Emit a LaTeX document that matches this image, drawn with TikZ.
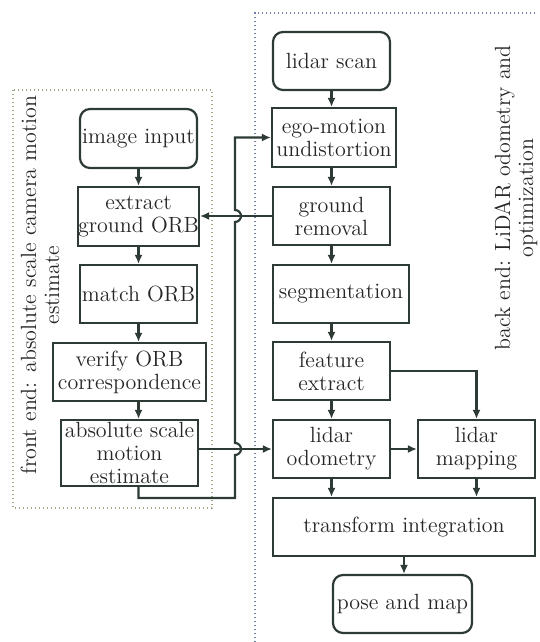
\documentclass[tikz,border=0pt]{standalone}
\usepackage{tikz}
\usetikzlibrary{arrows.meta}
\definecolor{linec}{HTML}{2E3A34}
\definecolor{frontc}{HTML}{98AA80}
\definecolor{backc}{HTML}{7080A8}

\begin{document}
\begin{tikzpicture}[x=0.5pt, y=-0.5pt,
		box/.style={draw=linec, line width=1.1pt, align=center, inner sep=0pt, text=black!85, font=\fontsize{11}{11.5}\selectfont},
		rbox/.style={box, rounded corners=5pt},
		arr/.style={draw=linec, line width=1.1pt, -{Latex[length=4.5pt, width=4pt]}},
		frame/.style={line width=0.8pt, dash pattern=on 0.7pt off 1.3pt},
		lbl/.style={rotate=90, align=center, text=black!85, font=\fontsize{11}{11.5}\selectfont}]
	\useasboundingbox (0, 0) rectangle (540, 642);

	\draw[frame, draw=frontc] (13, 90) rectangle (212, 508);
	\draw[frame, draw=backc] (255, 642) -- (255, 13) -- (537, 13);

	\node[lbl] at (40, 285) (flbl) {front end: absolute scale camera motion\\estimate};
	\node[lbl] at (516, 198) (blbl) {back end: LiDAR odometry and\\optimization};

	\node[rbox, minimum width=58.5pt, minimum height=29.5pt] at (138.5, 138.5) (img) {image input};
	\node[box, minimum width=58.5pt, minimum height=29.5pt] at (138.5, 216.5) (extract) {extract\\ground ORB};
	\node[box, minimum width=58.5pt, minimum height=29pt] at (138.5, 294) (match) {match ORB};
	\node[box, minimum width=76.5pt, minimum height=29pt] at (129.5, 372) (verify) {verify ORB\\correspondence};
	\node[box, minimum width=68.5pt, minimum height=33pt] at (129.5, 453) (absm) {absolute scale\\motion\\estimate};

	\node[rbox, minimum width=58.5pt, minimum height=29pt] at (331.5, 61) (scan) {lidar scan};
	\node[box, minimum width=62pt, minimum height=29.5pt] at (334, 137.5) (ego) {ego-motion\\undistortion};
	\node[box, minimum width=58.5pt, minimum height=29pt] at (331.5, 216) (ground) {ground\\removal};
	\node[box, minimum width=68pt, minimum height=29pt] at (341, 294) (seg) {segmentation};
	\node[box, minimum width=58.5pt, minimum height=29pt] at (331.5, 371) (feat) {feature\\extract};
	\node[box, minimum width=58.5pt, minimum height=29pt] at (331.5, 449) (odo) {lidar\\odometry};
	\node[box, minimum width=58.5pt, minimum height=29pt] at (476.5, 449) (mapn) {lidar\\mapping};
	\node[box, minimum width=131pt, minimum height=29pt] at (404, 527) (trans) {transform integration};
	\node[rbox, minimum width=69.5pt, minimum height=29pt] at (402.5, 604) (pose) {pose and map};

	\coordinate (fb) at (235, 498);

	\draw[arr] (img) -- (extract);
	\draw[arr] (extract) -- (match);
	\draw[arr] (match.south) -- (match.south |- verify.north);
	\draw[arr] (match.south |- verify.south) -- (match.south |- absm.north);
	\draw[arr] (absm.east |- odo.west) -- (odo.west);
	\draw[arr] (absm.south -| match.south) |- (fb) -- ([yshift=-3pt]fb |- odo.west) arc[start angle=-90, end angle=90, radius=3pt] -- ([yshift=-3pt]fb |- ground.west) arc[start angle=-90, end angle=90, radius=3pt] |- (ego.west);
	\draw[arr] (ground.west) -- (ground.west -| extract.east);

	\draw[arr] (scan.south) -- (scan.south |- ego.north);
	\draw[arr] (ground.north |- ego.south) -- (ground.north);
	\draw[arr] (ground.south) -- (ground.south |- seg.north);
	\draw[arr] (ground.south |- seg.south) -- (feat.north);
	\draw[arr] (feat) -- (odo);
	\draw[arr] (feat.east) -| (mapn.north);
	\draw[arr] (odo) -- (mapn);
	\draw[arr] (odo.south) -- (odo.south |- trans.north);
	\draw[arr] (mapn.south) -- (mapn.south |- trans.north);
	\draw[arr] (trans.south) -- (trans.south |- pose.north);
\end{tikzpicture}
\end{document}
